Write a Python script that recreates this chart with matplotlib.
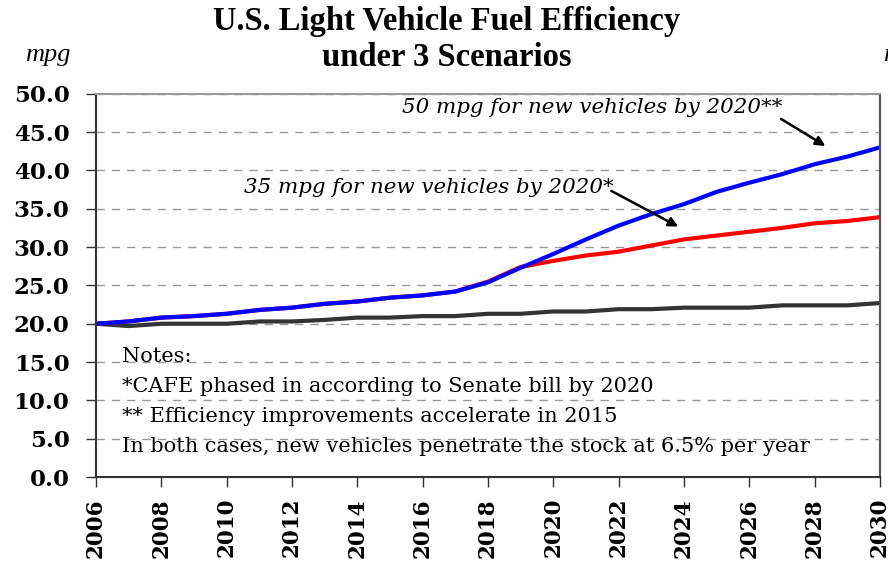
import matplotlib
matplotlib.use('Agg')
import matplotlib.pyplot as plt
import numpy as np

plt.rcParams.update({
    'font.family': 'DejaVu Serif',
    'axes.axisbelow': True,
})

years = np.arange(2006, 2031)
base = [20.0, 19.7, 20.0, 20.0, 20.0, 20.3, 20.3, 20.5, 20.8, 20.8, 21.0, 21.0,
        21.3, 21.3, 21.6, 21.6, 21.9, 21.9, 22.1, 22.1, 22.1, 22.4, 22.4, 22.4, 22.7]
cafe35 = [20.0, 20.3, 20.8, 21.0, 21.3, 21.8, 22.1, 22.6, 22.9, 23.4, 23.7, 24.2,
          25.5, 27.4, 28.2, 28.9, 29.4, 30.2, 31.0, 31.5, 32.0, 32.5, 33.1, 33.4, 33.9]
cafe50 = [20.0, 20.3, 20.8, 21.0, 21.3, 21.8, 22.1, 22.6, 22.9, 23.4, 23.7, 24.2,
          25.4, 27.3, 29.1, 31.0, 32.8, 34.3, 35.6, 37.2, 38.4, 39.5, 40.8, 41.8, 43.0]
xticks = np.arange(2006, 2031, 2)
yticks = np.arange(0, 50.1, 5)

fig = plt.figure(figsize=(8.88, 5.68), dpi=100)
ax = fig.add_axes([0.108, 0.160, 0.883, 0.675])

ax.plot(years, base, color='#333333', lw=3.0)
ax.plot(years, cafe35, color='#ff0000', lw=3.0)
ax.plot(years, cafe50, color='#0000ff', lw=3.0)

ax.set_xlim(2006, 2030)
ax.set_ylim(0, 50)
ax.set_yticks(yticks)
ax.set_yticklabels([f'{v:.1f}' for v in yticks], fontsize=16.5, fontweight='bold')
ax.set_xticks(xticks)
ax.set_xticklabels([str(y) for y in xticks], rotation=90, fontsize=15.5,
                   fontweight='bold')
ax.tick_params(axis='both', direction='out', length=7, width=1, color='#333333')
ax.tick_params(axis='y', pad=12)
ax.tick_params(axis='x', pad=8)
ax.yaxis.grid(True, ls=(0, (6, 5)), color='#999999', lw=1)

for s in ['left', 'bottom']:
    ax.spines[s].set_color('#333333')
    ax.spines[s].set_linewidth(1.5)
ax.spines['top'].set_color('#999999')
ax.spines['top'].set_linewidth(1.5)
ax.spines['right'].set_color('#555555')
ax.spines['right'].set_linewidth(1.5)

fig.text(0.503, 0.962, 'U.S. Light Vehicle Fuel Efficiency', ha='center',
         va='center', fontsize=23.5, fontweight='bold', family='Liberation Serif')
fig.text(0.503, 0.898, 'under 3 Scenarios', ha='center', va='center',
         fontsize=23.5, fontweight='bold', family='Liberation Serif')
fig.text(0.054, 0.903, 'mpg', ha='center', va='center', fontsize=19,
         style='italic', family='Liberation Serif')
fig.text(0.994, 0.903, 'm', ha='left', va='center', fontsize=19,
         style='italic', family='Liberation Serif')

ax.annotate('', xy=(2028.4, 43.0), xytext=(2026.9, 46.9),
            arrowprops=dict(arrowstyle='-|>', color='black', lw=1.8,
                            mutation_scale=14))
ax.annotate('', xy=(2023.9, 32.5), xytext=(2021.7, 37.5),
            arrowprops=dict(arrowstyle='-|>', color='black', lw=1.8,
                            mutation_scale=14))
ax.text(2021.2, 48.2, '50 mpg for new vehicles by 2020**', ha='center',
        va='center', fontsize=15.4, style='italic')
ax.text(2016.2, 37.8, '35 mpg for new vehicles by 2020*', ha='center',
        va='center', fontsize=15.4, style='italic')

notes = ['Notes:',
         '*CAFE phased in according to Senate bill by 2020',
         '** Efficiency improvements accelerate in 2015',
         'In both cases, new vehicles penetrate the stock at 6.5% per year']
for i, line in enumerate(notes):
    ax.text(2006.8, 15.7 - i * 3.92, line, ha='left', va='center', fontsize=15,
            family='DejaVu Serif')

fig.savefig('out.png', dpi=100)
